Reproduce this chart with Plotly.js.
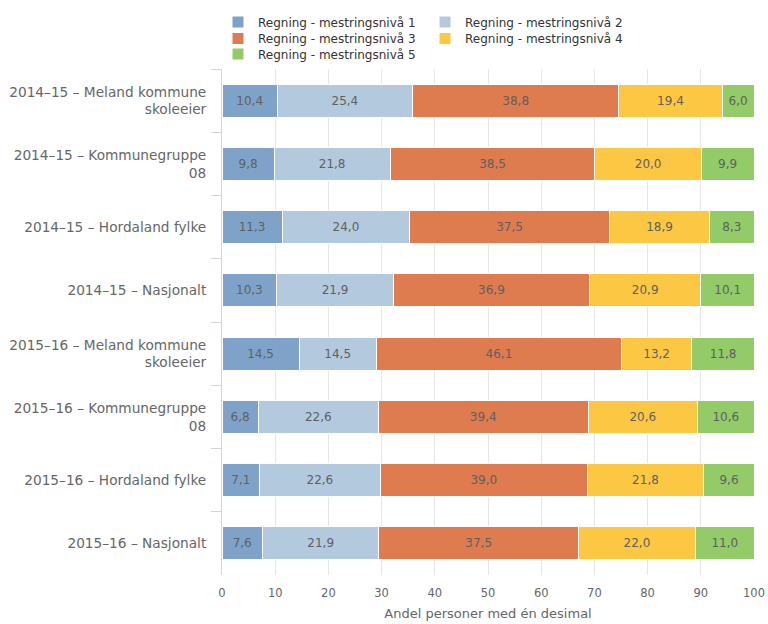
<!DOCTYPE html>
<html>
<head>
<meta charset="utf-8">
<script src="https://cdn.plot.ly/plotly-3.0.1.min.js"></script>
<style>html,body{margin:0;padding:0;background:#fff}#chart{width:768px;height:624px}</style>
</head>
<body>
<div id="chart"></div>
<script>
const categories = [
  "2014–15 – Meland kommune<br>skoleeier",
  "2014–15 – Kommunegruppe<br>08",
  "2014–15 – Hordaland fylke",
  "2014–15 – Nasjonalt",
  "2015–16 – Meland kommune<br>skoleeier",
  "2015–16 – Kommunegruppe<br>08",
  "2015–16 – Hordaland fylke",
  "2015–16 – Nasjonalt"
];
const seriesNames = [
  "Regning - mestringsnivå 1",
  "Regning - mestringsnivå 2",
  "Regning - mestringsnivå 3",
  "Regning - mestringsnivå 4",
  "Regning - mestringsnivå 5"
];
const niva1 = [10.4, 9.8, 11.3, 10.3, 14.5, 6.8, 7.1, 7.6];
const niva2 = [25.4, 21.8, 24.0, 21.9, 14.5, 22.6, 22.6, 21.9];
const niva3 = [38.8, 38.5, 37.5, 36.9, 46.1, 39.4, 39.0, 37.5];
const niva4 = [19.4, 20.0, 18.9, 20.9, 13.2, 20.6, 21.8, 22.0];
const niva5 = [6.0, 9.9, 8.3, 10.1, 11.8, 10.6, 9.6, 11.0];
const xTicks = [0, 10, 20, 30, 40, 50, 60, 70, 80, 90, 100];
const colors = ["#7fa3c8", "#b3c9de", "#de7b4f", "#fcc843", "#92cb68"];

const allSeries = [niva1, niva2, niva3, niva4, niva5];
const legendOf = ['legend', 'legend', 'legend2', 'legend2', 'legend3'];
const fmt = v => v.toFixed(1).replace('.', ',');

const traces = allSeries.map((vals, i) => ({
  type: 'bar',
  orientation: 'h',
  name: seriesNames[i],
  legend: legendOf[i],
  y: categories,
  x: vals,
  text: vals.map(fmt),
  textposition: 'inside',
  insidetextanchor: 'middle',
  textangle: 0,
  constraintext: 'none',
  textfont: {family: 'DejaVu Sans, Verdana, sans-serif', size: 12, color: '#606060'},
  marker: {color: colors[i], line: {color: '#ffffff', width: 1}},
  hoverinfo: 'skip'
}));

function legendAt(rowY) {
  return {
    orientation: 'h',
    xref: 'container', x: 218 / 768, xanchor: 'left',
    yref: 'container', y: 1 - rowY / 624, yanchor: 'middle',
    entrywidth: 162,
    font: {family: 'DejaVu Sans, Verdana, sans-serif', size: 12, color: '#333333'},
    traceorder: 'normal',
    bgcolor: 'rgba(0,0,0,0)',
    itemclick: false
  };
}

const layout = {
  width: 768,
  height: 624,
  barmode: 'stack',
  bargap: 0.48,
  margin: {l: 222, r: 14, t: 69, b: 49},
  paper_bgcolor: '#ffffff',
  plot_bgcolor: '#ffffff',
  font: {family: 'DejaVu Sans, Verdana, sans-serif', color: '#666666'},
  showlegend: true,
  legend: legendAt(22),
  legend2: legendAt(38.5),
  legend3: legendAt(54),
  xaxis: {
    range: [0, 100],
    tickvals: xTicks,
    ticktext: xTicks.map(String),
    showgrid: true,
    gridcolor: '#e6e6e6',
    zeroline: false,
    showline: false,
    ticks: '',
    ticklabelstandoff: 9,
    tickfont: {size: 11.5, color: '#666666'},
    title: {text: 'Andel personer med én desimal', font: {size: 13, color: '#666666'}, standoff: 10},
    fixedrange: true
  },
  yaxis: {
    type: 'category',
    autorange: 'reversed',
    showline: true,
    linecolor: '#ccd6eb',
    linewidth: 1,
    ticks: 'outside',
    tickson: 'boundaries',
    ticklen: 10,
    tickcolor: '#ccd6eb',
    ticklabelstandoff: 12,
    showgrid: false,
    tickfont: {size: 13.7, color: '#666666'},
    fixedrange: true
  }
};

Plotly.newPlot('chart', traces, layout, {displayModeBar: false, staticPlot: true});
</script>
</body>
</html>
